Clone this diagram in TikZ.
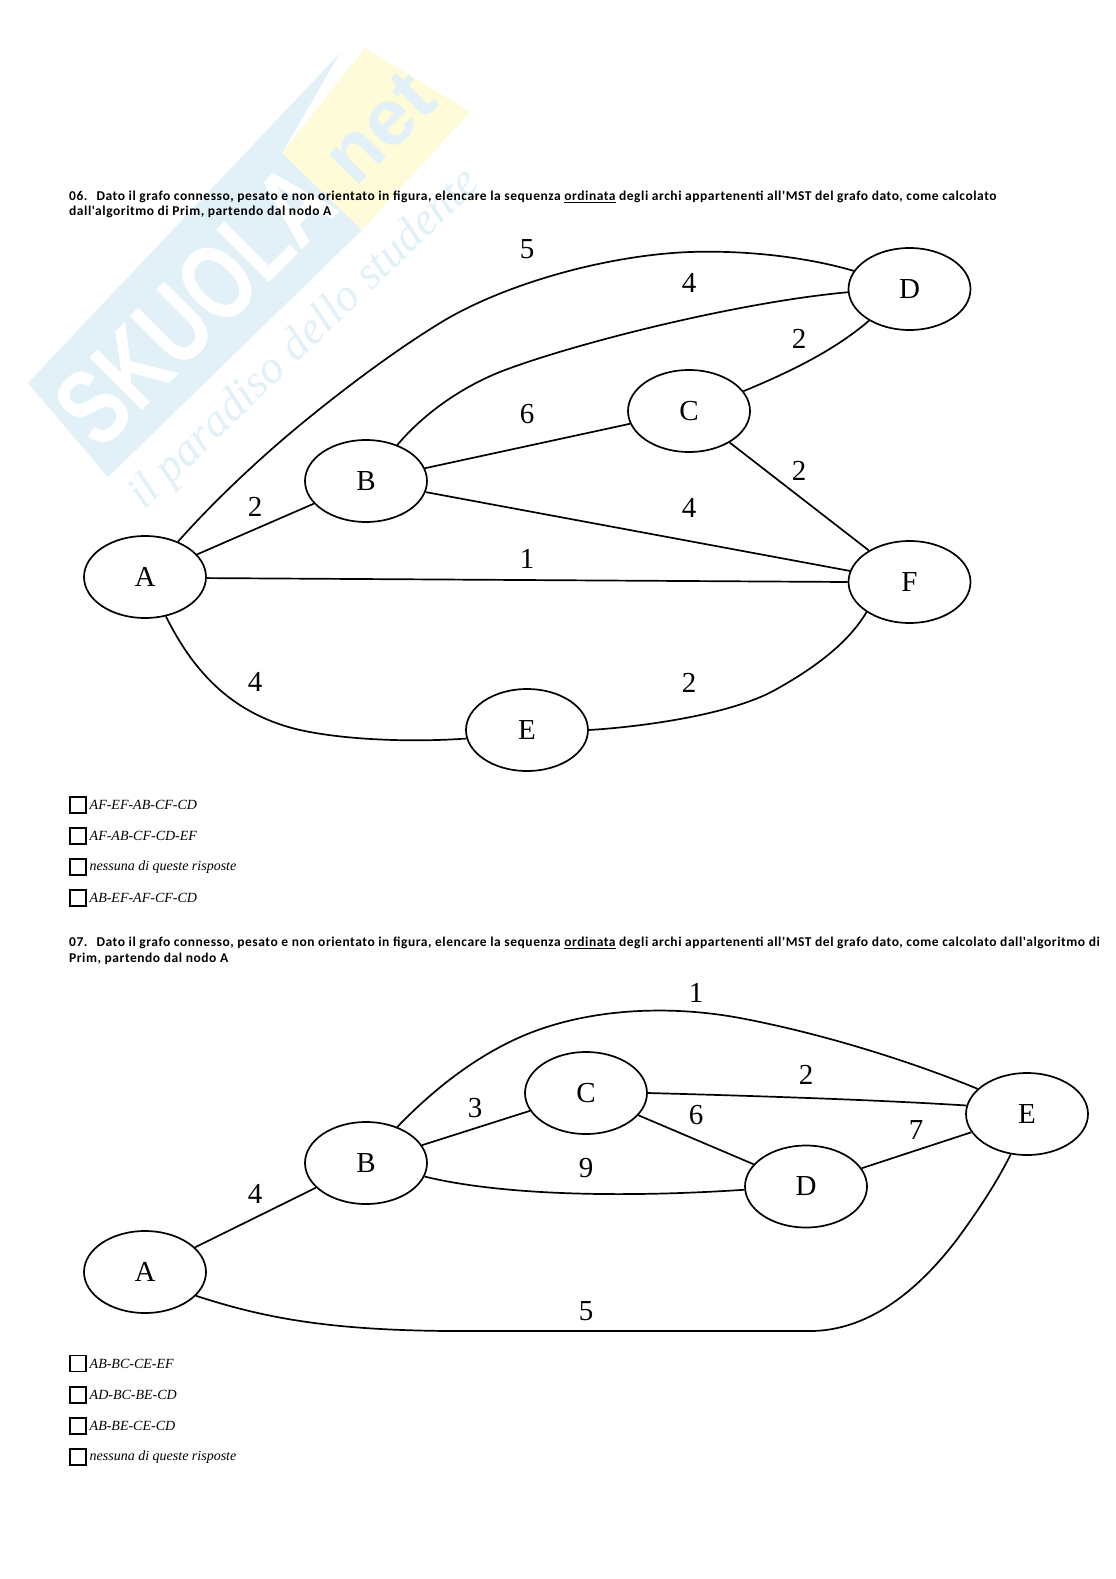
\documentclass[tikz,border=0pt]{standalone}
\usepackage{fontspec}
\setmainfont{Liberation Serif}
\setsansfont{Liberation Sans}
\newfontfamily\quizfont[LetterSpace=4]{Carlito}
\usetikzlibrary{positioning,calc,shapes.geometric}
\definecolor{markblue}{RGB}{226,240,248}
\definecolor{markyellow}{RGB}{254,251,216}
\tikzset{
  vertex/.style={draw,ellipse,line width=1.7pt,minimum width=122pt,minimum height=82pt,inner sep=0pt,font=\fontsize{29}{29}\selectfont},
  weight/.style={font=\fontsize{29}{29}\selectfont,inner sep=0pt},
  edge/.style={line width=1.7pt},
  quiz/.style={anchor=west,inner sep=0pt,font=\quizfont\bfseries\fontsize{13.5}{15.2}\selectfont,align=left},
  tick/.style={draw,line width=1.5pt,minimum size=16pt,inner sep=0pt,anchor=west},
  choice/.style={anchor=west,inner sep=0pt,font=\itshape\fontsize{14}{15}\selectfont},
}
\begin{document}
\begin{tikzpicture}[x=1pt,y=-1pt]
\useasboundingbox[fill=white] (0,0) rectangle (1116,1579);
% watermark
\fill[markblue] (28,383) -- (340,53) -- (282,153) -- (362,230) -- (108,477) -- cycle;
\fill[markyellow] (282,153) -- (365,48) -- (470,112) -- (362,230) -- cycle;
\node[rotate=45,text=white,font=\sffamily\bfseries\fontsize{108}{108}\selectfont,inner sep=0pt] (mark) at (195,305) {\scalebox{.75}[1]{SKUOLA}};
\node[rotate=45,text=markblue,font=\sffamily\bfseries\fontsize{80}{80}\selectfont,inner sep=0pt] (marknet) at (380,128) {net};
\node[rotate=44,text=markblue,font=\itshape\fontsize{46}{46}\selectfont,inner sep=0pt] (markline) at (305,340) {il paradiso dello studente};
% question 06
\node[quiz] (q1a) at (69,197) {06.\hspace{9pt}Dato il grafo connesso, pesato e non orientato in figura, elencare la sequenza \underline{ordinata} degli archi appartenenti all'MST del grafo dato, come calcolato};
\node[quiz] (q1b) at (69,212) {dall'algoritmo di Prim, partendo dal nodo A};
\node[vertex] (A) at (145,577) {A};
\node[vertex] (B) at (366,481) {B};
\node[vertex] (C) at (689,411) {C};
\node[vertex] (D) at (909.5,289) {D};
\node[vertex] (E) at (527,730) {E};
\node[vertex] (F) at (909.5,582) {F};
\draw[edge] (A) -- (B);
\draw[edge] (A.-1) -- (F.west);
\draw[edge] (B) -- (C);
\draw[edge] (B) -- (F);
\draw[edge] (C) -- (F);
\draw[edge] (A.47) .. controls (215,500) and (260,458) .. (300,425) .. controls (340,392) and (395,350) .. (445,320) .. controls (510,282) and (610,255) .. (690,252) .. controls (750,250) and (810,258) .. (D.162);
\draw[edge] (B.49) .. controls (425,412) and (465,385) .. (505,370) .. controls (580,342) and (740,302) .. (D.183);
\draw[edge] (C.20) .. controls (790,372) and (835,350) .. (D.218);
\draw[edge] (A.298) .. controls (195,675) and (235,715) .. (300,730) .. controls (350,741) and (420,742) .. (E.188);
\draw[edge] (E.east) .. controls (640,727) and (730,715) .. (775,690) .. controls (820,665) and (850,640) .. (F.215);
\node[weight] (w1) at (527,249) {5};
\node[weight] (w2) at (689,283) {4};
\node[weight] (w3) at (799,339) {2};
\node[weight] (w4) at (527,414) {6};
\node[weight] (w5) at (799,471) {2};
\node[weight] (w6) at (689,508) {4};
\node[weight] (w7) at (255,507) {2};
\node[weight] (w8) at (527,559) {1};
\node[weight] (w9) at (255,682) {4};
\node[weight] (w10) at (689,683) {2};
% choices 06
\node[tick] (t1) at (69,805) {};
\node[choice,right=3pt of t1] (c1) {AF-EF-AB-CF-CD};
\node[tick] (t2) at (69,836) {};
\node[choice,right=3pt of t2] (c2) {AF-AB-CF-CD-EF};
\node[tick] (t3) at (69,867) {};
\node[choice,right=3pt of t3] (c3) {nessuna di queste risposte};
\node[tick] (t4) at (69,898) {};
\node[choice,right=3pt of t4] (c4) {AB-EF-AF-CF-CD};
% question 07
\node[quiz] (q2a) at (69,943) {07.\hspace{9pt}Dato il grafo connesso, pesato e non orientato in figura, elencare la sequenza \underline{ordinata} degli archi appartenenti all'MST del grafo dato, come calcolato dall'algoritmo di};
\node[quiz] (q2b) at (69,959) {Prim, partendo dal nodo A};
\node[vertex] (A2) at (145,1272) {A};
\node[vertex] (B2) at (366,1163) {B};
\node[vertex] (C2) at (586,1093) {C};
\node[vertex] (D2) at (806,1186.5) {D};
\node[vertex] (E2) at (1027,1114) {E};
\draw[edge] (A2) -- (B2);
\draw[edge] (B2) -- (C2);
\draw[edge] (C2) -- (D2);
\draw[edge] (D2) -- (E2);
\draw[edge] (C2.east) .. controls (760,1096) and (880,1100) .. (E2.172);
\draw[edge] (B2.49) .. controls (425,1098) and (470,1058) .. (525,1035) .. controls (590,1008) and (670,1005) .. (740,1018) .. controls (830,1035) and (920,1065) .. (E2.153);
\draw[edge] (B2.-13) .. controls (500,1195) and (620,1198) .. (D2.183);
\draw[edge] (A2.-25) .. controls (270,1320) and (340,1332) .. (480,1331) .. controls (620,1331) and (720,1331) .. (810,1331) .. controls (865,1331) and (915,1295) .. (958,1238) .. controls (980,1208) and (998,1180) .. (E2.-112);
\node[weight] (x1) at (696,993) {1};
\node[weight] (x2) at (806,1075) {2};
\node[weight] (x3) at (475,1108) {3};
\node[weight] (x4) at (696,1115) {6};
\node[weight] (x5) at (916,1130) {7};
\node[weight] (x6) at (255,1194) {4};
\node[weight] (x7) at (586,1168) {9};
\node[weight] (x8) at (586,1311) {5};
% choices 07
\node[tick] (t5) at (69,1363.5) {};
\node[choice,right=3pt of t5] (c5) {AB-BC-CE-EF};
\node[tick] (t6) at (69,1395) {};
\node[choice,right=3pt of t6] (c6) {AD-BC-BE-CD};
\node[tick] (t7) at (69,1426) {};
\node[choice,right=3pt of t7] (c7) {AB-BE-CE-CD};
\node[tick] (t8) at (69,1457) {};
\node[choice,right=3pt of t8] (c8) {nessuna di queste risposte};
\end{tikzpicture}
\end{document}
